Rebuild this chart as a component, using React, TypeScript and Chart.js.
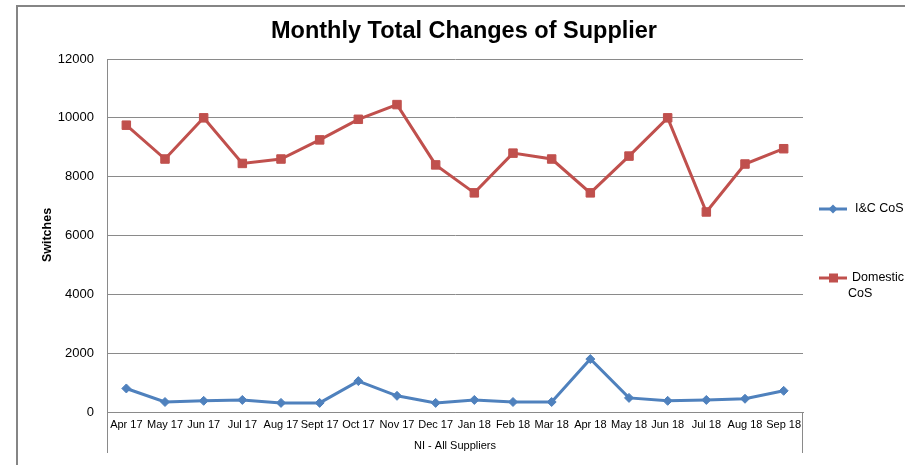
import React, { useEffect, useRef } from "react";
import { Chart, registerables } from "chart.js";

Chart.register(...registerables);

const months = ["Apr 17", "May 17", "Jun 17", "Jul 17", "Aug 17", "Sept 17", "Oct 17", "Nov 17", "Dec 17", "Jan 18", "Feb 18", "Mar 18", "Apr 18", "May 18", "Jun 18", "Jul 18", "Aug 18", "Sep 18"];
const icCoS = [800, 340, 380, 410, 310, 310, 1050, 550, 310, 410, 340, 340, 1800, 480, 380, 410, 450, 720];
const domesticCoS = [9750, 8600, 10000, 8450, 8600, 9250, 9950, 10450, 8400, 7450, 8800, 8600, 7450, 8700, 10000, 6800, 8430, 8950];

const FONT = "'Liberation Sans', Arial, sans-serif";
const BLUE = "#4F81BD";
const RED = "#C0504D";
const GRID = "#8A8A8A";

const decorPlugin = {
  id: "decor",
  afterDraw(chart: any) {
    const ctx = chart.ctx;
    const a = chart.chartArea;
    ctx.save();
    // outer border
    ctx.strokeStyle = "#858585";
    ctx.lineWidth = 2;
    ctx.beginPath();
    ctx.moveTo(17, 465);
    ctx.lineTo(17, 6);
    ctx.lineTo(905, 6);
    ctx.stroke();
    // box below axis
    ctx.strokeStyle = GRID;
    ctx.lineWidth = 1;
    ctx.beginPath();
    ctx.moveTo(Math.round(a.left) + 0.5, a.bottom);
    ctx.lineTo(Math.round(a.left) + 0.5, 453);
    ctx.moveTo(Math.round(a.right) - 0.5, a.bottom);
    ctx.lineTo(Math.round(a.right) - 0.5, 453);
    ctx.stroke();
    // title
    ctx.fillStyle = "#000";
    ctx.textAlign = "center";
    ctx.textBaseline = "middle";
    ctx.font = `bold 23.5px ${FONT}`;
    ctx.fillText("Monthly Total Changes of Supplier", 464, 32);
    // x axis title
    ctx.font = `11px ${FONT}`;
    ctx.fillText("NI - All Suppliers", (a.left + a.right) / 2, 446);
    // y axis title
    ctx.save();
    ctx.translate(48, 235);
    ctx.rotate(-Math.PI / 2);
    ctx.font = `bold 12.5px ${FONT}`;
    ctx.fillText("Switches", 0, 0);
    ctx.restore();
    // legend
    const drawLegend = (y: number, color: string, style: string) => {
      ctx.strokeStyle = color;
      ctx.lineWidth = 3;
      ctx.beginPath();
      ctx.moveTo(819, y);
      ctx.lineTo(847, y);
      ctx.stroke();
      ctx.fillStyle = color;
      if (style === "rect") {
        ctx.fillRect(829, y - 4.5, 9, 9);
      } else {
        ctx.beginPath();
        ctx.moveTo(833, y - 4.5);
        ctx.lineTo(837.5, y);
        ctx.lineTo(833, y + 4.5);
        ctx.lineTo(828.5, y);
        ctx.closePath();
        ctx.fill();
      }
    };
    drawLegend(209, BLUE, "diamond");
    drawLegend(278, RED, "rect");
    ctx.fillStyle = "#000";
    ctx.textAlign = "left";
    ctx.font = `12.5px ${FONT}`;
    ctx.fillText("I&C CoS", 855, 209);
    ctx.fillText("Domestic", 852, 278);
    ctx.fillText("CoS", 848, 294);
    ctx.restore();
  },
};

export default function App() {
  const ref = useRef<HTMLCanvasElement>(null);
  useEffect(() => {
    if (!ref.current) return;
    const chart = new Chart(ref.current, {
      type: "line",
      data: {
        labels: months,
        datasets: [
          {
            label: "I&C CoS",
            data: icCoS,
            borderColor: BLUE,
            backgroundColor: BLUE,
            borderWidth: 3,
            pointStyle: "rectRot",
            pointRadius: 4.5,
            pointBorderWidth: 1,
            tension: 0,
          },
          {
            label: "Domestic CoS",
            data: domesticCoS,
            borderColor: RED,
            backgroundColor: RED,
            borderWidth: 3,
            pointStyle: "rect",
            pointRadius: 6,
            pointBorderWidth: 1,
            tension: 0,
          },
        ],
      },
      options: {
        responsive: false,
        animation: false,
        devicePixelRatio: 1,
        layout: { padding: { left: 17, top: 59, right: 102, bottom: 0 } },
        plugins: {
          legend: { display: false },
          title: { display: false },
          tooltip: { enabled: false },
        },
        scales: {
          x: {
            offset: true,
            grid: { display: false, drawTicks: false },
            border: { display: true, color: GRID, width: 1 },
            ticks: {
              color: "#000",
              font: { family: FONT, size: 11 },
              padding: 6,
              maxRotation: 0,
              autoSkip: false,
            },
            afterFit: (s: any) => {
              s.height = 53;
            },
          },
          y: {
            min: 0,
            max: 12000,
            grid: { color: GRID, lineWidth: 1, drawTicks: false },
            border: { display: true, color: GRID, width: 1 },
            ticks: {
              stepSize: 2000,
              color: "#000",
              font: { family: FONT, size: 13 },
              padding: 13,
              callback: (v: any) => String(v),
            },
            afterFit: (s: any) => {
              s.width = 90;
            },
          },
        },
      },
      plugins: [decorPlugin],
    });
    return () => chart.destroy();
  }, []);
  return (
    <div style={{ position: "absolute", left: 0, top: 0, width: 905, height: 465, background: "#fff" }}>
      <canvas ref={ref} width={905} height={465} style={{ display: "block" }} />
    </div>
  );
}
